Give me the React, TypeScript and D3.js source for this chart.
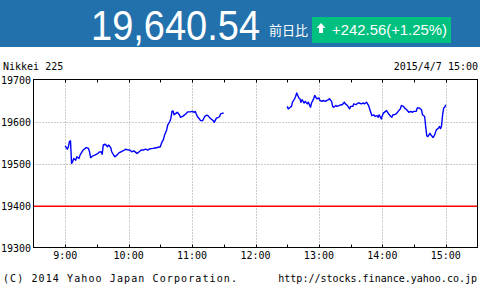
import React from "react";
import * as d3 from "d3";

const titleName = "Nikkei 225";
const dateLabel = "2015/4/7 15:00";
const priceText = "19,640.54";
const changeLabel = "前日比";
const changeText = "+242.56(+1.25%)";
const prevClose = 19397.98;
const yTicks = [19300, 19400, 19500, 19600, 19700];
const xTickLabels = ["9:00", "10:00", "11:00", "12:00", "13:00", "14:00", "15:00"];
const copyright = "(C) 2014 Yahoo Japan Corporation.";
const sourceUrl = "http://stocks.finance.yahoo.co.jp";

const morningTimes = ["9:00","9:02","9:03","9:04","9:05","9:06","9:07","9:08","9:10","9:11","9:13","9:14","9:16","9:17","9:19","9:20","9:22","9:23","9:24","9:26","9:28","9:31","9:32","9:34","9:35","9:36","9:38","9:40","9:41","9:43","9:44","9:46","9:47","9:49","9:51","9:53","9:56","9:57","10:00","10:01","10:03","10:05","10:07","10:08","10:10","10:12","10:14","10:16","10:18","10:20","10:23","10:25","10:27","10:30","10:31","10:33","10:34","10:36","10:37","10:39","10:40","10:41","10:42","10:43","10:45","10:46","10:48","10:49","10:51","10:52","10:54","10:56","10:58","11:00","11:02","11:03","11:05","11:07","11:08","11:10","11:12","11:14","11:15","11:17","11:19","11:20","11:21","11:23","11:25","11:26","11:27","11:29","11:30"];
const morningValues = [19542,19534,19540,19552,19554,19500,19504,19512,19508,19516,19512,19520,19528,19532,19536,19538,19536,19528,19514,19518,19520,19524,19527,19528,19522,19544,19546,19540,19544,19538,19528,19519,19516,19520,19526,19528,19532,19534,19532,19532,19528,19530,19526,19524,19528,19532,19532,19534,19532,19535,19536,19537,19538,19540,19548,19558,19568,19580,19592,19600,19608,19624,19625,19616,19620,19622,19616,19610,19612,19614,19618,19623,19623,19624,19622,19624,19612,19606,19602,19602,19612,19615,19614,19608,19604,19602,19598,19608,19610,19612,19618,19620,19620];

const afternoonTimes = ["12:30","12:31","12:32","12:34","12:35","12:36","12:37","12:38","12:39","12:41","12:42","12:43","12:44","12:46","12:47","12:49","12:50","12:52","12:53","12:55","12:56","12:57","12:58","13:00","13:01","13:03","13:04","13:06","13:09","13:10","13:12","13:13","13:14","13:16","13:17","13:19","13:21","13:22","13:24","13:25","13:27","13:29","13:30","13:32","13:33","13:35","13:37","13:38","13:40","13:42","13:43","13:45","13:47","13:49","13:50","13:52","13:53","13:55","13:56","13:57","13:59","14:00","14:01","14:03","14:04","14:05","14:06","14:08","14:09","14:10","14:11","14:13","14:15","14:17","14:18","14:20","14:21","14:22","14:23","14:25","14:27","14:28","14:30","14:32","14:33","14:35","14:37","14:38","14:40","14:41","14:42","14:43","14:45","14:46","14:48","14:49","14:50","14:51","14:53","14:54","14:55","14:56","14:57","14:58","14:59","15:00"];
const afternoonValues = [19636,19630,19632,19636,19646,19650,19654,19660,19668,19656,19654,19646,19652,19644,19648,19642,19646,19634,19644,19654,19662,19658,19654,19656,19650,19648,19650,19648,19652,19654,19648,19636,19634,19638,19636,19638,19640,19640,19646,19642,19638,19630,19636,19636,19642,19640,19644,19644,19642,19644,19642,19646,19638,19622,19614,19616,19612,19614,19610,19616,19606,19614,19620,19624,19626,19622,19618,19612,19610,19616,19616,19618,19624,19630,19638,19636,19632,19630,19628,19622,19624,19622,19624,19624,19632,19632,19628,19616,19612,19588,19566,19564,19572,19568,19562,19566,19572,19580,19584,19588,19583,19590,19616,19632,19634,19640];

const toMin = (s: string) => {
  const [h, m] = s.split(":").map(Number);
  return h * 60 + m;
};

export default function App() {
  const W = 480, H = 290;
  const left = 33.5, right = 477.5, top = 79.5, bottom = 247.5;
  const x = d3.scaleLinear().domain([8 * 60 + 30, 15 * 60 + 30]).range([left, right]);
  const y = d3.scaleLinear().domain([19300, 19700]).range([bottom, top]);
  const line = d3.line<[number, number]>().x(d => x(d[0])).y(d => y(d[1]));
  const am: [number, number][] = morningTimes.map((t, i) => [toMin(t), morningValues[i]]);
  const pm: [number, number][] = afternoonTimes.map((t, i) => [toMin(t), afternoonValues[i]]);
  const halfHours = d3.range(9 * 60, 15 * 60 + 1, 30);
  const mono = "'DejaVu Sans Mono', monospace";
  return (
    <svg width={W} height={H} style={{ position: "absolute", left: 0, top: 0, background: "#fff" }}>
      <rect x={0} y={0} width={W} height={47} fill="#2371ac" />
      <text transform="translate(91,40) scale(1,1.1)" fill="#fff" fontFamily="'Liberation Sans', Arial, sans-serif" fontSize={38}>{priceText}</text>
      <text x={269} y={35} fill="#fff" fontFamily="'Noto Sans CJK JP', sans-serif" fontSize={13}>{changeLabel}</text>
      <rect x={312} y={17} width={139} height={26} fill="#00c07f" />
      <path d="M321,23 L325.5,28 L323,28 L323,33 L319,33 L319,28 L316.5,28 Z" fill="#fff" />
      <text x={332} y={35} fill="#fff" fontFamily="'Liberation Sans', Arial, sans-serif" fontSize={14} textLength={115} lengthAdjust="spacingAndGlyphs">{changeText}</text>

      <text x={3} y={70} fontFamily={mono} fontSize={10} fill="#000">{titleName}</text>
      <text x={478} y={70} textAnchor="end" fontFamily={mono} fontSize={10} fill="#000">{dateLabel}</text>

      {yTicks.filter(v => v > 19300 && v < 19700).map(v => (
        <line key={"gy" + v} x1={left} x2={right} y1={Math.round(y(v)) + 0.5} y2={Math.round(y(v)) + 0.5} stroke="#999" strokeDasharray="1,2" />
      ))}
      {xTickLabels.map(t => (
        <line key={"gx" + t} x1={Math.round(x(toMin(t))) + 0.5} x2={Math.round(x(toMin(t))) + 0.5} y1={top} y2={bottom} stroke="#999" strokeDasharray="1,2" />
      ))}
      {halfHours.map(m => (
        <g key={"t" + m}>
          <line x1={Math.round(x(m)) + 0.5} x2={Math.round(x(m)) + 0.5} y1={top} y2={top + 3} stroke="#000" />
          <line x1={Math.round(x(m)) + 0.5} x2={Math.round(x(m)) + 0.5} y1={bottom - 3} y2={bottom} stroke="#000" />
        </g>
      ))}
      <line x1={left} x2={right} y1={y(prevClose)} y2={y(prevClose)} stroke="#ff0000" strokeWidth={1.5} />
      <path d={line(am) || ""} fill="none" stroke="#0000ff" strokeWidth={1.4} strokeLinejoin="round" />
      <path d={line(pm) || ""} fill="none" stroke="#0000ff" strokeWidth={1.4} strokeLinejoin="round" />
      <rect x={left} y={top} width={right - left} height={bottom - top} fill="none" stroke="#000" />

      {yTicks.map(v => (
        <text key={"yl" + v} x={31} y={y(v) + 4.5} textAnchor="end" fontFamily={mono} fontSize={10} fill="#000">{v}</text>
      ))}
      {xTickLabels.map(t => (
        <text key={"xl" + t} x={x(toMin(t))} y={259} textAnchor="middle" fontFamily={mono} fontSize={10} fill="#000">{t}</text>
      ))}
      <text x={3} y={282} fontFamily={mono} fontSize={10} fill="#000" textLength={234} lengthAdjust="spacing">{copyright}</text>
      <text x={477} y={282} textAnchor="end" fontFamily={mono} fontSize={10} fill="#000">{sourceUrl}</text>
    </svg>
  );
}
